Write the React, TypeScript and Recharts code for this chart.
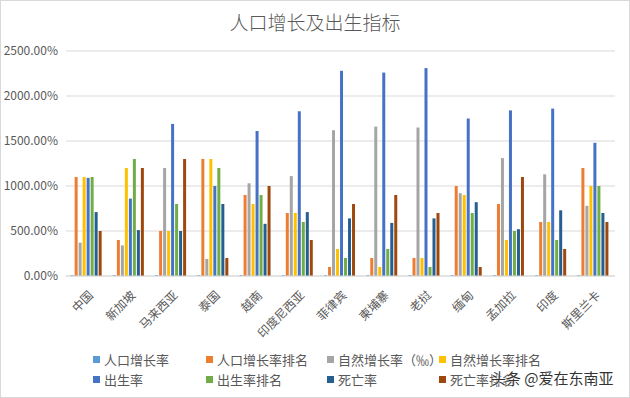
import React from "react";
import { BarChart, Bar, XAxis, YAxis, CartesianGrid } from "recharts";

const countries = ["中国", "新加坡", "马来西亚", "泰国", "越南", "印度尼西亚", "菲律宾", "柬埔寨", "老挝", "缅甸", "孟加拉", "印度", "斯里兰卡"];

const popGrowth = [0.1, 0.1, 0.1, 0.1, 0.1, 0.1, 0.1, 0.1, 0.1, 0.1, 0.1, 0.1, 0.1];
const popGrowthRank = [11, 4, 5, 13, 9, 7, 1, 2, 2, 10, 8, 6, 12];
const natGrowth = [3.7, 3.4, 12, 1.9, 10.3, 11.1, 16.2, 16.6, 16.5, 9.2, 13.1, 11.3, 7.8];
const natGrowthRank = [11, 12, 5, 13, 8, 7, 3, 1, 2, 9, 4, 6, 10];
const birthRate = [10.9, 8.6, 16.9, 10, 16.1, 18.3, 22.8, 22.6, 23.1, 17.5, 18.4, 18.6, 14.8];
const birthRateRank = [11, 13, 8, 12, 9, 6, 2, 3, 1, 7, 5, 4, 10];
const deathRate = [7.1, 5.1, 5.0, 8.0, 5.8, 7.1, 6.4, 5.9, 6.4, 8.2, 5.2, 7.3, 7.0];
const deathRateRank = [5, 12, 13, 2, 10, 4, 8, 9, 7, 1, 11, 3, 6];

const yTicks = [0, 5, 10, 15, 20, 25];

const series = [
  { key: "popGrowth", name: "人口增长率", color: "#5B9BD5", values: popGrowth },
  { key: "popGrowthRank", name: "人口增长率排名", color: "#ED7D31", values: popGrowthRank },
  { key: "natGrowth", name: "自然增长率（‰）", color: "#A5A5A5", values: natGrowth },
  { key: "natGrowthRank", name: "自然增长率排名", color: "#FFC000", values: natGrowthRank },
  { key: "birthRate", name: "出生率", color: "#4472C4", values: birthRate },
  { key: "birthRateRank", name: "出生率排名", color: "#70AD47", values: birthRateRank },
  { key: "deathRate", name: "死亡率", color: "#255E91", values: deathRate },
  { key: "deathRateRank", name: "死亡率排名", color: "#9E480E", values: deathRateRank },
];

const data = countries.map((c, i) => {
  const row: any = { country: c };
  series.forEach((s) => (row[s.key] = s.values[i]));
  return row;
});

const font = '"Noto Sans CJK SC", "Noto Sans", sans-serif';

function CountryTick({ x, y, payload }: any) {
  return (
    <text
      x={x + 7}
      y={y + 12}
      transform={`rotate(-45, ${x + 7}, ${y + 12})`}
      textAnchor="end"
      fontSize={12}
      fill="#595959"
      fontFamily={font}
    >
      {payload.value}
    </text>
  );
}

const legendCols = [92, 205, 326, 438];

export default function App() {
  return (
    <div
      style={{
        position: "absolute",
        left: 0,
        top: 0,
        width: 628,
        height: 396,
        border: "1px solid #d9d9d9",
        background: "#fff",
        fontFamily: font,
      }}
    >
      <div
        style={{
          position: "absolute",
          top: 7,
          width: "100%",
          textAlign: "center",
          fontSize: 19,
          fontWeight: 300,
          color: "#595959",
        }}
      >
        人口增长及出生指标
      </div>
      <div style={{ position: "absolute", left: -1, top: -1 }}>
        <BarChart
          width={630}
          height={340}
          data={data}
          margin={{ top: 51, right: 15, left: 8, bottom: 4 }}
          barCategoryGap="11%"
          barGap={1}
        >
          <CartesianGrid vertical={false} stroke="#d9d9d9" />
          <XAxis
            dataKey="country"
            interval={0}
            tick={<CountryTick />}
            tickLine={false}
            axisLine={{ stroke: "#d9d9d9" }}
            height={60}
          />
          <YAxis
            domain={[0, 25]}
            ticks={yTicks}
            width={58}
            axisLine={false}
            tickLine={false}
            tick={{ fontSize: 12, fill: "#595959", fontFamily: font }}
            tickFormatter={(v: number) => (v * 100).toFixed(2) + "%"}
          />
          {series.map((s) => (
            <Bar key={s.key} dataKey={s.key} name={s.name} fill={s.color} isAnimationActive={false} />
          ))}
        </BarChart>
      </div>
      {series.map((s, i) => (
        <div
          key={s.key}
          style={{
            position: "absolute",
            left: legendCols[i % 4],
            top: i < 4 ? 349 : 369,
            display: "flex",
            alignItems: "center",
            fontSize: 13,
            color: "#595959",
            whiteSpace: "nowrap",
          }}
        >
          <span style={{ display: "inline-block", width: 7, height: 7, background: s.color, marginRight: 4 }} />
          {s.name}
        </div>
      ))}
      <div
        style={{
          position: "absolute",
          left: 490,
          top: 366,
          fontSize: 15,
          color: "#333",
          textShadow: "0 0 2px #fff, 0 0 2px #fff",
          whiteSpace: "nowrap",
        }}
      >
        头条 @爱在东南亚
      </div>
    </div>
  );
}
